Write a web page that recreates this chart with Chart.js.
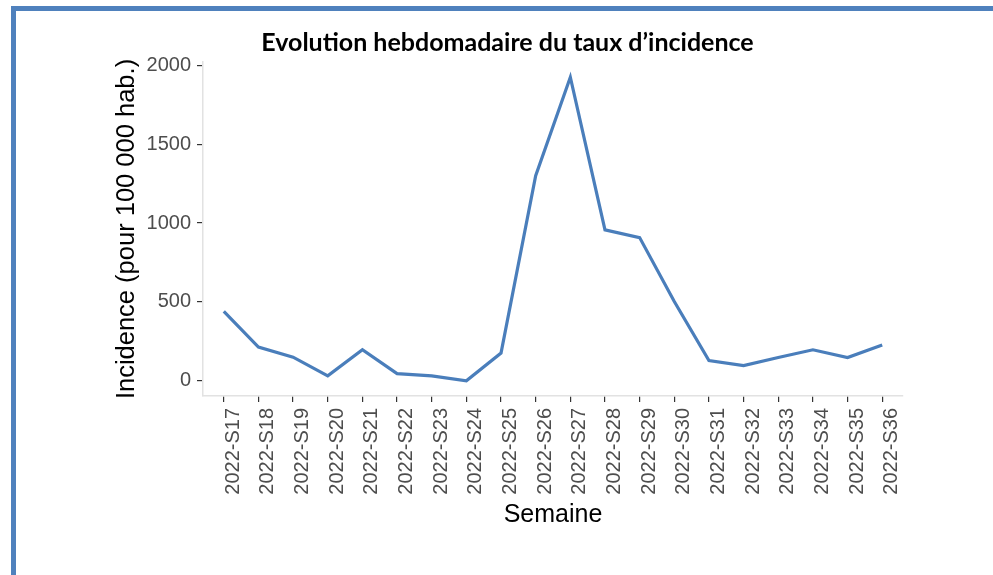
<!DOCTYPE html>
<html>
<head>
<meta charset="utf-8">
<script src="https://cdn.jsdelivr.net/npm/chart.js@4.4.1/dist/chart.umd.min.js"></script>
<style>
  html, body { margin: 0; padding: 0; background: #fff; }
  #cadre { position: absolute; left: 11px; top: 6px; width: 990px; height: 580px;
           border-left: 5px solid #4f81bd; border-top: 5px solid #4f81bd; }
  #zone { position: absolute; left: 0; top: 0; width: 993px; height: 575px; }
</style>
</head>
<body>
<div id="cadre"></div>
<div id="zone"><canvas id="graphique" width="993" height="575"></canvas></div>
<script>
// Semaines et taux d'incidence (pour 100 000 hab.)
const semaines = ['2022-S17', '2022-S18', '2022-S19', '2022-S20', '2022-S21', '2022-S22', '2022-S23',
  '2022-S24', '2022-S25', '2022-S26', '2022-S27', '2022-S28', '2022-S29', '2022-S30', '2022-S31',
  '2022-S32', '2022-S33', '2022-S34', '2022-S35', '2022-S36'];
const incidence = [440, 214, 150, 32, 197, 46, 32, 0, 176, 1300, 1925, 957, 908, 503, 129, 97, 148, 197, 148, 228];
const graduationsY = [0, 500, 1000, 1500, 2000];

const policeAxe = "'Liberation Sans', Arial, sans-serif";

const ctx = document.getElementById('graphique').getContext('2d');
new Chart(ctx, {
  type: 'line',
  data: {
    datasets: [{
      label: 'Incidence',
      data: incidence.map((v, i) => ({ x: i, y: v })),
      borderColor: '#4a7ebb',
      borderWidth: 3.2,
      pointRadius: 0,
      tension: 0,
      fill: false
    }]
  },
  options: {
    responsive: false,
    animation: false,
    layout: { padding: { left: 112, right: 90, top: 0, bottom: 45 } },
    plugins: {
      legend: { display: false },
      tooltip: { enabled: false },
      title: {
        display: true,
        text: 'Evolution hebdomadaire du taux d\u2019incidence',
        color: '#000',
        font: { family: "Lato, 'Open Sans', sans-serif", size: 25, weight: 'bold' },
        padding: { top: 28, bottom: 4 }
      }
    },
    scales: {
      x: {
        type: 'linear',
        min: -0.6,
        max: semaines.length - 0.4,
        afterBuildTicks: s => { s.ticks = semaines.map((_, i) => ({ value: i })); },
        afterFit: s => { s.height = 134; },
        grid: { drawOnChartArea: false, drawTicks: true, tickLength: 6, color: '#333', lineWidth: 1.2 },
        border: { display: true, color: '#e2e2e2', width: 1.5 },
        ticks: {
          autoSkip: false,
          minRotation: 90,
          maxRotation: 90,
          padding: 6,
          labelOffset: 9.5,
          color: '#4d4d4d',
          font: { family: policeAxe, size: 20 },
          callback: v => semaines[v]
        },
        title: {
          display: true,
          text: 'Semaine',
          color: '#000',
          padding: 0,
          font: { family: policeAxe, size: 25 }
        }
      },
      y: {
        min: -96,
        max: 2021,
        afterBuildTicks: s => { s.ticks = graduationsY.map(v => ({ value: v })); },
        afterFit: s => { s.width = 91; },
        grid: { drawOnChartArea: false, drawTicks: true, tickLength: 6, color: '#333', lineWidth: 1.2 },
        border: { display: true, color: '#e2e2e2', width: 1.5 },
        ticks: {
          padding: 6,
          color: '#4d4d4d',
          font: { family: policeAxe, size: 20 },
          callback: v => String(v)
        },
        title: {
          display: true,
          text: 'Incidence (pour 100 000 hab.)',
          color: '#000',
          padding: 0,
          font: { family: policeAxe, size: 25.5 }
        }
      }
    }
  }
});
</script>
</body>
</html>
